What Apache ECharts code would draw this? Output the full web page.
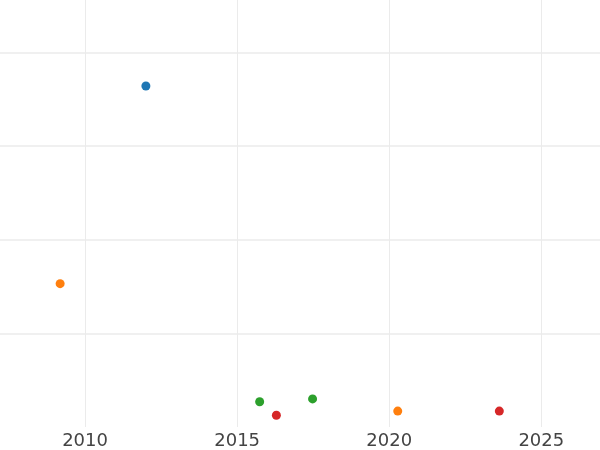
<!DOCTYPE html>
<html>
<head>
<meta charset="utf-8">
<script src="https://cdn.jsdelivr.net/npm/echarts@6/dist/echarts.min.js"></script>
<style>html,body{margin:0;padding:0;background:#fff;overflow:hidden;width:600px;height:450px}#c{width:667px;height:450px;margin-left:-67px}</style>
</head>
<body>
<div id="c"></div>
<script>
const seriesNames = ['A', 'B', 'C', 'D'];
const seriesColors = ['#1f77b4', '#ff7f0e', '#2ca02c', '#d62728'];
const blueYears = [2012.0];
const blueValues = [3.64];
const orangeYears = [2009.18, 2020.28];
const orangeValues = [1.53, 0.17];
const greenYears = [2015.74, 2017.48];
const greenValues = [0.27, 0.30];
const redYears = [2016.29, 2023.62];
const redValues = [0.125, 0.17];
const xTicks = [2010, 2015, 2020, 2025];

const yearsList = [blueYears, orangeYears, greenYears, redYears];
const valuesList = [blueValues, orangeValues, greenValues, redValues];

const chart = echarts.init(document.getElementById('c'), null, {renderer: 'canvas'});
chart.setOption({
  animation: false,
  grid: {left: 0, right: 0, top: 0, bottom: 22.5, containLabel: false},
  xAxis: {
    type: 'value', min: 2005, max: 2026.93, interval: 5,
    axisLine: {show: false}, axisTick: {show: false},
    axisLabel: {
      color: '#444', fontFamily: 'DejaVu Sans', fontSize: 18, margin: 5,
      showMinLabel: false, showMaxLabel: false,
      formatter: v => xTicks.includes(v) ? String(v) : ''
    },
    splitLine: {show: true, showMinLine: false, showMaxLine: false, lineStyle: {color: '#ebebeb', width: 1}}
  },
  yAxis: {
    type: 'value', min: 0, max: 4.558, interval: 1,
    axisLine: {show: false}, axisTick: {show: false}, axisLabel: {show: false},
    splitLine: {show: true, showMinLine: false, showMaxLine: false, lineStyle: {color: '#ebebeb', width: 1.5}}
  },
  series: seriesNames.map((n, i) => ({
    name: n, type: 'scatter', symbol: 'circle', symbolSize: 9,
    itemStyle: {color: seriesColors[i], opacity: 1},
    data: yearsList[i].map((x, j) => [x, valuesList[i][j]])
  }))
});
</script>
</body>
</html>
